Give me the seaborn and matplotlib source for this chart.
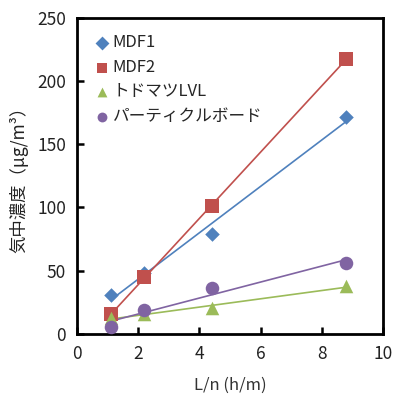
import matplotlib
matplotlib.use("Agg")
import matplotlib.pyplot as plt
import seaborn as sns

# data
x_vals = [1.1, 2.2, 4.4, 8.8]
series_names = ["MDF1", "MDF2", "トドマツLVL", "パーティクルボード"]
mdf1 = [30.6, 48.3, 78.6, 171.7]
mdf2 = [15.3, 44.8, 101.0, 217.6]
lvl = [12.7, 15.3, 20.6, 37.7]
particle = [5.5, 18.7, 36.1, 56.2]

colors = ["#4F81BD", "#C0504D", "#9BBB59", "#8064A2"]
markers = ["D", "s", "^", "o"]
marker_sizes = [55, 110, 95, 95]

sns.set_style("white")
plt.rcParams["font.family"] = ["Noto Sans CJK JP", "DejaVu Sans"]

fig = plt.figure(figsize=(3.93, 3.96), dpi=100)
ax = fig.add_axes([0.196, 0.157, 0.779, 0.798])

for name, ys, c, m, s in zip(series_names, [mdf1, mdf2, lvl, particle],
                             colors, markers, marker_sizes):
    sns.regplot(
        x=x_vals,
        y=ys,
        ax=ax,
        ci=None,
        color=c,
        marker=m,
        scatter_kws={"s": s, "linewidths": 0, "alpha": 1, "zorder": 3},
        line_kws={"linewidth": 1.2, "zorder": 2},
        label=name,
    )

ax.set_xlim(0, 10)
ax.set_ylim(0, 250)
ax.set_xticks([0, 2, 4, 6, 8, 10])
ax.set_yticks([0, 50, 100, 150, 200, 250])

ax.tick_params(direction="in", length=5, width=1.8, labelsize=12.5,
               colors="black", labelcolor="#222222", pad=8,
               bottom=True, left=True, top=False, right=False)
for sp in ax.spines.values():
    sp.set_linewidth(2)
    sp.set_color("black")

ax.set_xlabel("L/n (h/m)", fontsize=12, color="#333333", labelpad=10)
ax.set_ylabel("気中濃度（μg/m³）", fontsize=12.5, color="#222222", labelpad=6)

handles, labels = ax.get_legend_handles_labels()
leg = ax.legend(
    handles[:4], labels[:4],
    loc="upper left",
    frameon=False,
    fontsize=12,
    handletextpad=0.15,
    labelspacing=0.45,
    handlelength=1.0,
    borderaxespad=0.6,
    scatterpoints=1,
)
for h in leg.legend_handles:
    try:
        h.set_sizes([50])
    except AttributeError:
        pass

fig.savefig("out.png", dpi=100)
